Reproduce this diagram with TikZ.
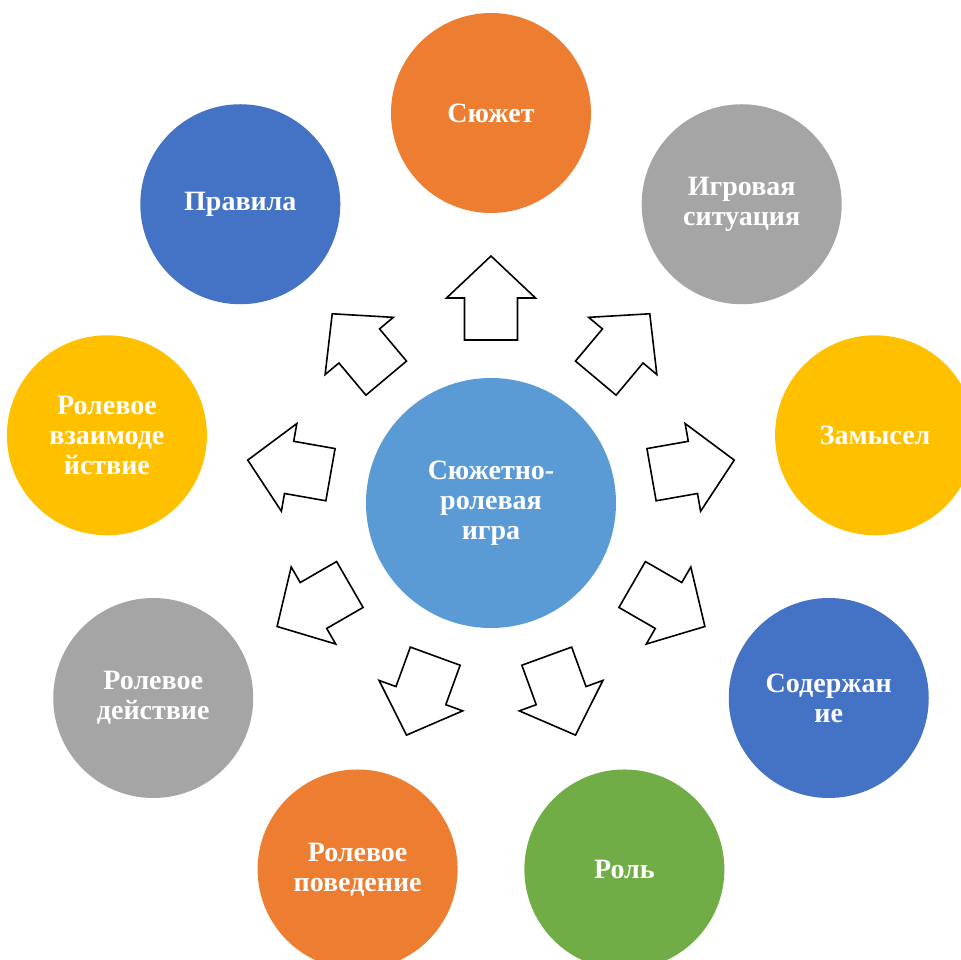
\documentclass[tikz,border=0pt]{standalone}
\usepackage{fontspec}
\setmainfont{Liberation Serif}
\definecolor{cOrange}{HTML}{ED7D31}
\definecolor{cGray}{HTML}{A5A5A5}
\definecolor{cYellow}{HTML}{FFC000}
\definecolor{cBlue}{HTML}{4472C4}
\definecolor{cGreen}{HTML}{70AD47}
\definecolor{cCenter}{HTML}{5B9BD5}
\tikzset{
  ring/.style={circle, minimum size=200pt, inner sep=0pt, text=white, align=center,
    font=\fontsize{28}{30}\selectfont\bfseries},
  hub/.style={circle, minimum size=250pt, inner sep=0pt, fill=cCenter, text=white, align=center,
    font=\fontsize{28}{30}\selectfont\bfseries},
  blockarrow/.style={draw=black, fill=white, line width=1.6pt, line join=miter}
}
\begin{document}
\begin{tikzpicture}[x=1pt,y=1pt]
\useasboundingbox (-491,503) rectangle (470,-457);
\node[hub] (c) at (0,0) {Сюжетно-\\ролевая\\игра};
\node[ring, fill=cOrange] (o1) at (90:390) {Сюжет};
\node[ring, fill=cGray] (o2) at (50:390) {Игровая\\ситуация};
\node[ring, fill=cYellow] (o3) at (10:390) {Замысел};
\node[ring, fill=cBlue] (o4) at (-30:390) {Содержан\\ие};
\node[ring, fill=cGreen] (o5) at (-70:390) {Роль};
\node[ring, fill=cOrange] (o6) at (-110:390) {Ролевое\\поведение};
\node[ring, fill=cGray] (o7) at (-150:390) {Ролевое\\действие};
\node[ring, fill=cYellow] (o8) at (170:390) {Ролевое\\взаимоде\\йствие};
\node[ring, fill=cBlue] (o9) at (130:390) {Правила};
\foreach \a in {90,50,10,-30,-70,-110,-150,170,130}{
  \draw[blockarrow, rotate=\a] (163,-26.5) -- (205,-26.5) -- (205,-44.5) -- (247,0)
    -- (205,44.5) -- (205,26.5) -- (163,26.5) -- cycle;
}
\end{tikzpicture}
\end{document}
